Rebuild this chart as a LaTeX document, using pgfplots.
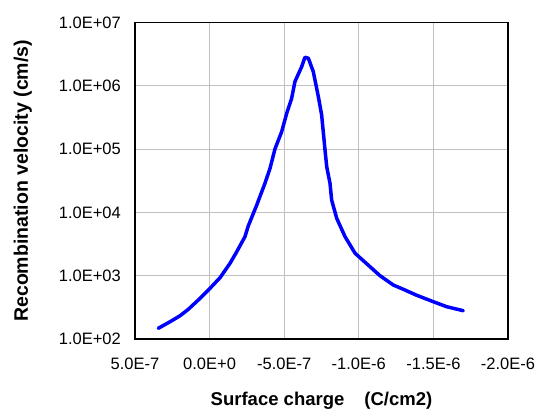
\documentclass[border=0pt]{standalone}
\usepackage{fontspec}
\setmainfont{Liberation Sans}
\usepackage{pgfplots}
\pgfplotsset{compat=1.18}
\definecolor{gridgray}{RGB}{192,192,192}
\begin{document}
\begin{tikzpicture}
\begin{axis}[
  scale only axis,
  width=373bp, height=316.3bp,
  x dir=reverse,
  xmin=-20, xmax=5,
  ymode=log, ymin=100, ymax=1e7,
  xtick={5,0,-5,-10,-15,-20},
  xticklabels={5.0E-7,0.0E+0,-5.0E-7,-1.0E-6,-1.5E-6,-2.0E-6},
  ytick={1e2,1e3,1e4,1e5,1e6,1e7},
  yticklabels={1.0E+02,1.0E+03,1.0E+04,1.0E+05,1.0E+06,1.0E+07},
  yminorticks=false,
  /pgf/number format/assume math mode=true,
  major tick length=0pt,
  grid=major,
  major grid style={gridgray, line width=1bp},
  axis line style={black, line width=1.5bp},
  tick label style={font=\fontsize{16.5bp}{18bp}\selectfont, inner sep=0pt},
  xticklabel style={anchor=north, yshift=-19bp},
  yticklabel style={anchor=east, xshift=-14bp},
  xlabel={Surface charge\hspace{20bp}(C/cm2)},
  ylabel={Recombination velocity (cm/s)},
  xlabel style={font=\fontsize{18.5bp}{20bp}\selectfont\bfseries, at={(axis description cs:0.5,0)}, anchor=base, yshift=-66.5bp, inner sep=0pt},
  ylabel style={font=\fontsize{19.5bp}{21bp}\selectfont\bfseries, at={(axis description cs:-0.2869,0.5)}, anchor=base, inner sep=0pt},
  clip=false,
]
\addplot[color={rgb,255:red,0;green,0;blue,255}, line width=3.5bp, line join=round, line cap=round] coordinates {
(3.44,147.6)
(2.65,187.6)
(1.98,233)
(1.43,294)
(0.76,413)
(-0.03,633)
(-0.70,931)
(-1.37,1574)
(-1.82,2399)
(-2.37,4140)
(-2.59,6110)
(-3.16,13120)
(-3.71,28900)
(-4.05,49900)
(-4.38,100700)
(-4.83,189000)
(-5.17,370000)
(-5.50,638000)
(-5.72,1170000)
(-6.17,2010000)
(-6.39,2840000)
(-6.62,2740000)
(-6.95,1680000)
(-7.29,676000)
(-7.51,348000)
(-7.73,100700)
(-7.85,52900)
(-8.07,28900)
(-8.18,15740)
(-8.52,8090)
(-9.08,4140)
(-9.75,2265)
(-10.75,1390)
(-11.42,1002)
(-12.31,714)
(-12.98,611)
(-13.88,491)
(-14.99,389)
(-15.89,324)
(-17.0,280)
};
\end{axis}
\pgfresetboundingbox
\path ([shift={(-135bp,-71bp)}]current axis.south west) rectangle ([shift={(30bp,22.7bp)}]current axis.north east);
\end{tikzpicture}
\end{document}
